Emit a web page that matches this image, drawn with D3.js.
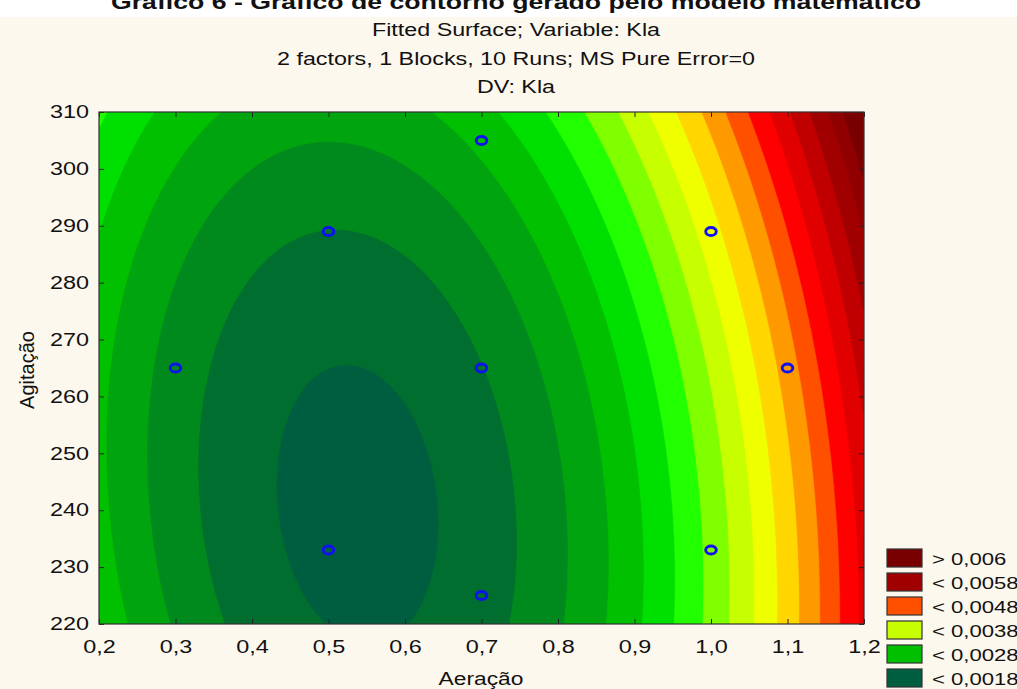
<!DOCTYPE html>
<html>
<head>
<meta charset="utf-8">
<script src="https://cdn.jsdelivr.net/npm/d3@7"></script>
<style>
  body { margin: 0; background: #fff; }
  svg { display: block; font-family: "Liberation Sans", Arial, sans-serif; }
</style>
</head>
<body>
<div id="chart"></div>
<script>
// design points (runs)
const aeracao = [0.3, 0.5, 0.5, 0.7, 0.7, 0.7, 1.0, 1.0, 1.1]
const agitacao = [265, 233, 289, 225, 265, 305, 233, 289, 265]

// fitted quadratic surface, centred form
// Kla = kMin + a*(x-x0)^2 + b*(y-y0)^2 + c*(x-x0)*(y-y0)
const stationary = [0.538, 241]
const kMin = 0.001713
const quadCoef = [0.0079, 1.47e-7, 9.29e-6]

// contour levels and band colours (lowest band first)
const levels = [0.0018, 0.00205, 0.0023, 0.00255, 0.0028, 0.00305, 0.0033, 0.00355, 0.0038,
    0.00405, 0.0043, 0.00455, 0.0048, 0.00505, 0.0053, 0.00555, 0.0058, 0.006]
const bandColors = ["#005e40", "#006e2e", "#008a1e", "#00a40e", "#00c000", "#00e000", "#22ff00",
    "#80ff00", "#c8ff00", "#f0ff00", "#ffd600", "#ff9900", "#ff5000", "#ff0000", "#e00000",
    "#c00000", "#a00000", "#900000", "#780000"]

const legendValues = [0.006, 0.0058, 0.0048, 0.0038, 0.0028, 0.0018]
const legendSigns = [">", "<", "<", "<", "<", "<"]

const xTicks = [0.2, 0.3, 0.4, 0.5, 0.6, 0.7, 0.8, 0.9, 1.0, 1.1, 1.2]
const yTicks = [220, 230, 240, 250, 260, 270, 280, 290, 300, 310]

const width = 1017, height = 689
const pLeft = 99, pRight = 864, pTop = 112, pBottom = 624
const pw = pRight - pLeft, ph = pBottom - pTop
// the source picture is stretched sideways, so text is widened too
const wide = 1.3

const locale = d3.formatLocale({ decimal: ",", thousands: ".", grouping: [3], currency: ["", ""] })
const fmt1 = locale.format(".1f")

function stretch(sel, k) {
    sel.each(function () {
        const len = this.getComputedTextLength()
        d3.select(this).attr("textLength", len * k).attr("lengthAdjust", "spacingAndGlyphs")
    })
}

const svg = d3.select("#chart").append("svg")
    .attr("width", width)
    .attr("height", height)

svg.append("rect").attr("x", 0).attr("y", 17).attr("width", width).attr("height", height - 17)
    .attr("fill", "#fdf8ee")

// headings
svg.append("text")
    .attr("x", 516).attr("y", 9)
    .attr("text-anchor", "middle")
    .attr("font-size", 20.5).attr("font-weight", "bold").attr("fill", "#111")
    .text("Gráfico 6 - Gráfico de contorno gerado pelo modelo matemático")
    .call(stretch, wide)

const subtitles = ["Fitted Surface; Variable: Kla", "2 factors, 1 Blocks, 10 Runs; MS Pure Error=0", "DV: Kla"]
svg.selectAll(".subtitle")
    .data(subtitles)
    .enter()
    .append("text")
    .attr("class", "subtitle")
    .attr("x", 516)
    .attr("y", (d, i) => 36 + i * 28.5)
    .attr("text-anchor", "middle")
    .attr("font-size", 17.5).attr("fill", "#111")
    .text(d => d)
    .call(stretch, 1.33)

const xScale = d3.scaleLinear().domain([0.2, 1.2]).range([pLeft, pRight])
const yScale = d3.scaleLinear().domain([220, 310]).range([pBottom, pTop])

function kla(x, y) {
    const u = x - stationary[0], v = y - stationary[1]
    return kMin + quadCoef[0] * u * u + quadCoef[1] * v * v + quadCoef[2] * u * v
}

// sample the surface over the plot area
const nx = 383, ny = 256
const grid = new Float64Array(nx * ny)
for (let j = 0; j < ny; j++) {
    for (let i = 0; i < nx; i++) {
        const px = pLeft + (i + 0.5) * pw / nx
        const py = pTop + (j + 0.5) * ph / ny
        grid[j * nx + i] = kla(xScale.invert(px), yScale.invert(py))
    }
}

const color = d3.scaleThreshold().domain(levels).range(bandColors)
const bands = d3.contours().size([nx, ny]).thresholds(levels)(grid)
const toPlot = d3.geoTransform({
    point: function (x, y) { this.stream.point(pLeft + x * pw / nx, pTop + y * ph / ny) }
})
const path = d3.geoPath(toPlot)

svg.append("clipPath").attr("id", "plotClip")
    .append("rect").attr("x", pLeft).attr("y", pTop).attr("width", pw).attr("height", ph)

const plot = svg.append("g").attr("clip-path", "url(#plotClip)")
plot.append("rect")
    .attr("x", pLeft).attr("y", pTop).attr("width", pw).attr("height", ph)
    .attr("fill", bandColors[0])
plot.selectAll("path.band")
    .data(bands)
    .enter()
    .append("path")
    .attr("class", "band")
    .attr("d", path)
    .attr("fill", d => color(d.value))
    .attr("stroke", d => color(d.value))
    .attr("stroke-width", 0.6)

// axes with inward ticks on every side
svg.append("g")
    .attr("transform", "translate(0," + pBottom + ")")
    .call(d3.axisBottom(xScale).tickValues(xTicks).tickFormat(fmt1).tickSize(-5).tickPadding(16))
    .call(g => g.select(".domain").remove())
svg.append("g")
    .attr("transform", "translate(0," + pTop + ")")
    .call(d3.axisTop(xScale).tickValues(xTicks).tickFormat("").tickSize(-5))
    .call(g => g.select(".domain").remove())
svg.append("g")
    .attr("transform", "translate(" + pLeft + ",0)")
    .call(d3.axisLeft(yScale).tickValues(yTicks).tickSize(-5).tickPadding(10))
    .call(g => g.select(".domain").remove())
svg.append("g")
    .attr("transform", "translate(" + pRight + ",0)")
    .call(d3.axisRight(yScale).tickValues(yTicks).tickFormat("").tickSize(-5))
    .call(g => g.select(".domain").remove())

svg.selectAll(".tick line").attr("stroke", "#222")
svg.selectAll(".tick text")
    .attr("font-size", 18).attr("fill", "#111")
    .attr("font-family", "'Liberation Sans', Arial, sans-serif")
    .call(stretch, wide)

svg.append("rect")
    .attr("x", pLeft).attr("y", pTop).attr("width", pw).attr("height", ph)
    .attr("fill", "none").attr("stroke", "#333").attr("stroke-width", 1.2)

// design points (drawn as ellipses because of the sideways stretch)
svg.append("g")
    .selectAll("ellipse")
    .data(aeracao.map((a, i) => [a, agitacao[i]]))
    .enter()
    .append("ellipse")
    .attr("cx", d => xScale(d[0]))
    .attr("cy", d => yScale(d[1]))
    .attr("rx", 5.3)
    .attr("ry", 4)
    .attr("fill", "none")
    .attr("stroke", "#1010f2")
    .attr("stroke-width", 2.9)

// axis titles
svg.append("text")
    .attr("x", 481).attr("y", 685)
    .attr("text-anchor", "middle")
    .attr("font-size", 17.5).attr("fill", "#111")
    .text("Aeração")
    .call(stretch, wide)
svg.append("text")
    .attr("transform", "translate(34,370) rotate(-90)")
    .attr("text-anchor", "middle")
    .attr("font-size", 20).attr("fill", "#111")
    .text("Agitação")

// legend
const legend = svg.append("g").attr("transform", "translate(887,549)")
const items = legend.selectAll("g")
    .data(legendValues)
    .enter()
    .append("g")
    .attr("transform", (d, i) => "translate(0," + i * 24 + ")")
items.append("rect")
    .attr("width", 35).attr("height", 18)
    .attr("fill", (d, i) => legendSigns[i] === ">" ? color(d + 1e-9) : color(d - 1e-9))
    .attr("stroke", "#333").attr("stroke-width", 1.2)
items.append("text")
    .attr("x", 45).attr("y", 15.5)
    .attr("font-size", 17).attr("fill", "#111")
    .text((d, i) => legendSigns[i] + " " + String(d).replace(".", ","))
    .call(stretch, wide)
</script>
</body>
</html>
